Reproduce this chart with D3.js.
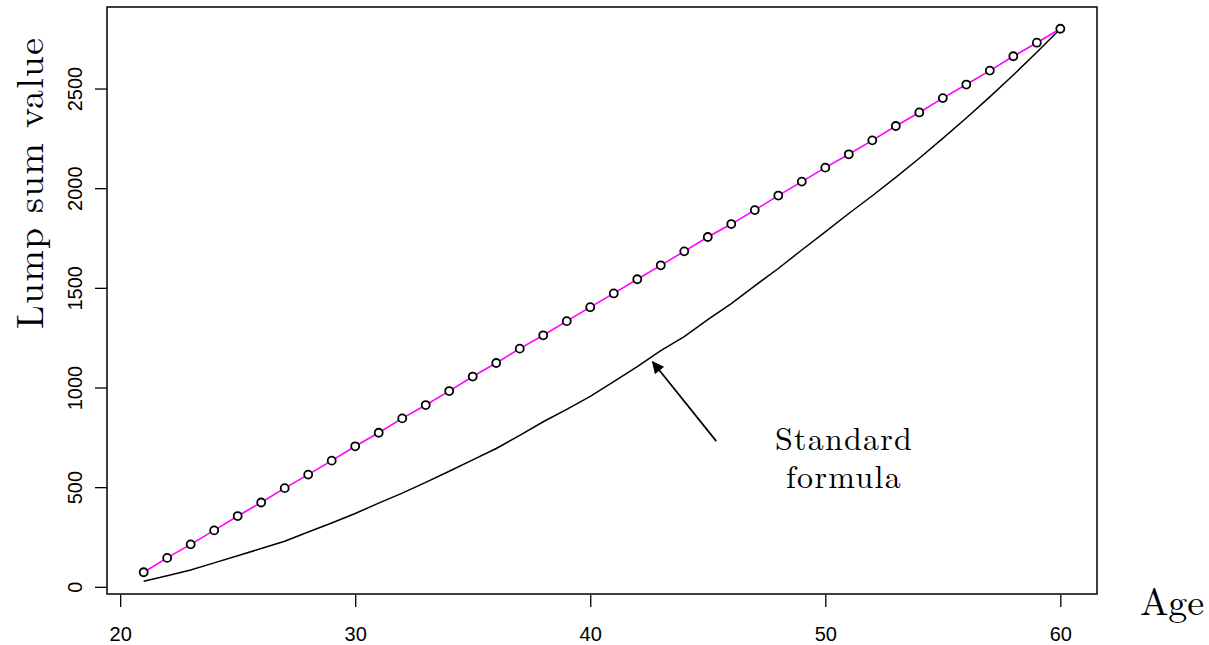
<!DOCTYPE html>
<html>
<head>
<meta charset="utf-8">
<script src="https://cdn.jsdelivr.net/npm/d3@7"></script>
<style>
  html, body { margin: 0; padding: 0; background: #ffffff; }
  svg { display: block; }
</style>
</head>
<body>
<svg id="chart" width="1209" height="645"></svg>
<script>
// ---- data ----
const ages = [21,22,23,24,25,26,27,28,29,30,31,32,33,34,35,36,37,38,39,40,
              41,42,43,44,45,46,47,48,49,50,51,52,53,54,55,56,57,58,59,60];
const lumpSumValues = [73,145,213,283,355,423,495,563,633,705,773,845,912,982,1055,1123,1195,1262,1333,1403,
                       1472,1543,1613,1683,1755,1820,1890,1963,2033,2103,2170,2240,2312,2380,2452,2520,2590,2662,2730,2800];
const standardFormula = [28,55,84,120,156,192,229,275,320,368,420,470,524,580,637,694,760,828,890,955,
                         1030,1105,1185,1255,1341,1421,1510,1597,1690,1781,1873,1962,2054,2150,2250,2352,2458,2568,2682,2800];
const xTicks = [20,30,40,50,60];
const yTicks = [0,500,1000,1500,2000,2500];
const xTitle = "Age";
const yTitle = "Lump sum value";
const noteLines = ["Standard", "formula"];
// annotation positions in data units (age, value)
const arrowFrom = [45.36, 731];
const arrowTo = [42.65, 1129];
const noteAt = [50.77, 685];

// ---- layout ----
const svg = d3.select("#chart");
const box = {left: 107, right: 1097, top: 7, bottom: 594};

const xr = d3.extent(ages), xpad = (xr[1]-xr[0])*0.04;
const yr = d3.extent(lumpSumValues), ypad = (yr[1]-yr[0])*0.04;
const x = d3.scaleLinear().domain([xr[0]-xpad, xr[1]+xpad]).range([box.left, box.right]);
const y = d3.scaleLinear().domain([yr[0]-ypad, yr[1]+ypad]).range([box.bottom, box.top]);

// box
svg.append("rect")
  .attr("x", box.left).attr("y", box.top)
  .attr("width", box.right-box.left).attr("height", box.bottom-box.top)
  .attr("fill", "none").attr("stroke", "#000").attr("stroke-width", 1.5);

const sans = "'Liberation Sans', Arial, sans-serif";

// x axis
const xAxis = d3.axisBottom(x).tickValues(xTicks).tickFormat(d3.format("d"))
  .tickSize(12).tickPadding(20).tickSizeOuter(0);
const gx = svg.append("g").attr("transform", `translate(0,${box.bottom+1})`).call(xAxis);
gx.select(".domain").remove();
gx.selectAll(".tick line").attr("stroke", "#000").attr("stroke-width", 1.3);
gx.selectAll(".tick text")
  .attr("font-family", sans).attr("font-size", 20).attr("fill", "#000");

// y axis
const yAxis = d3.axisLeft(y).tickValues(yTicks).tickFormat(d3.format("d"))
  .tickSize(12).tickSizeOuter(0);
const gy = svg.append("g").attr("transform", `translate(${box.left},0)`).call(yAxis);
gy.select(".domain").remove();
gy.selectAll(".tick line").attr("stroke", "#000").attr("stroke-width", 1.3);
gy.selectAll(".tick text")
  .attr("font-family", sans).attr("font-size", 20).attr("fill", "#000")
  .attr("x", null).attr("dy", null)
  .attr("text-anchor", "middle")
  .attr("transform", "translate(-25,0) rotate(-90)");

// standard formula line
const lineStd = d3.line().x((d,i) => x(ages[i])).y(d => y(d));
svg.append("path").datum(standardFormula)
  .attr("d", lineStd).attr("fill", "none")
  .attr("stroke", "#000").attr("stroke-width", 1.5);

// magenta line with points
const lineLump = d3.line().x((d,i) => x(ages[i])).y(d => y(d));
svg.append("path").datum(lumpSumValues)
  .attr("d", lineLump).attr("fill", "none")
  .attr("stroke", "#ff00ff").attr("stroke-width", 1.6);
svg.append("g").selectAll("circle").data(lumpSumValues).join("circle")
  .attr("cx", (d,i) => x(ages[i])).attr("cy", d => y(d))
  .attr("r", 4).attr("fill", "#fff").attr("stroke", "#000").attr("stroke-width", 1.8);

// arrow
const ax0 = x(arrowFrom[0]), ay0 = y(arrowFrom[1]);
const ax1 = x(arrowTo[0]), ay1 = y(arrowTo[1]);
svg.append("line").attr("x1", ax0).attr("y1", ay0).attr("x2", ax1).attr("y2", ay1)
  .attr("stroke", "#000").attr("stroke-width", 1.7);
const ang = Math.atan2(ay1-ay0, ax1-ax0);
const hl = 12, ha = Math.PI/7;
svg.append("path")
  .attr("d", `M${ax1-hl*Math.cos(ang-ha)},${ay1-hl*Math.sin(ang-ha)} L${ax1},${ay1} L${ax1-hl*Math.cos(ang+ha)},${ay1-hl*Math.sin(ang+ha)} Z`)
  .attr("fill", "#000").attr("stroke", "#000").attr("stroke-width", 1);

// annotation text (one text element, two lines)
const serif = "'Latin Modern Roman', 'CMU Serif', 'Liberation Serif', 'Times New Roman', serif";
const note = svg.append("text")
  .attr("text-anchor", "middle").attr("font-family", serif).attr("font-size", 32);
note.append("tspan").attr("x", x(noteAt[0])).attr("y", y(noteAt[1]))
  .attr("textLength", 137).attr("lengthAdjust", "spacing")
  .text(noteLines[0]);
note.append("tspan").attr("x", x(noteAt[0])).attr("y", y(noteAt[1]) + 37.5)
  .attr("textLength", 115).attr("lengthAdjust", "spacing")
  .text(noteLines[1]);

// axis titles
svg.append("text").attr("x", 1140).attr("y", 615)
  .attr("font-family", serif).attr("font-size", 38)
  .attr("textLength", 64).attr("lengthAdjust", "spacing")
  .text(xTitle);
svg.append("text")
  .attr("transform", "translate(43,329) rotate(-90)")
  .attr("font-family", serif).attr("font-size", 38)
  .attr("textLength", 291).attr("lengthAdjust", "spacing")
  .text(yTitle);
</script>
</body>
</html>
